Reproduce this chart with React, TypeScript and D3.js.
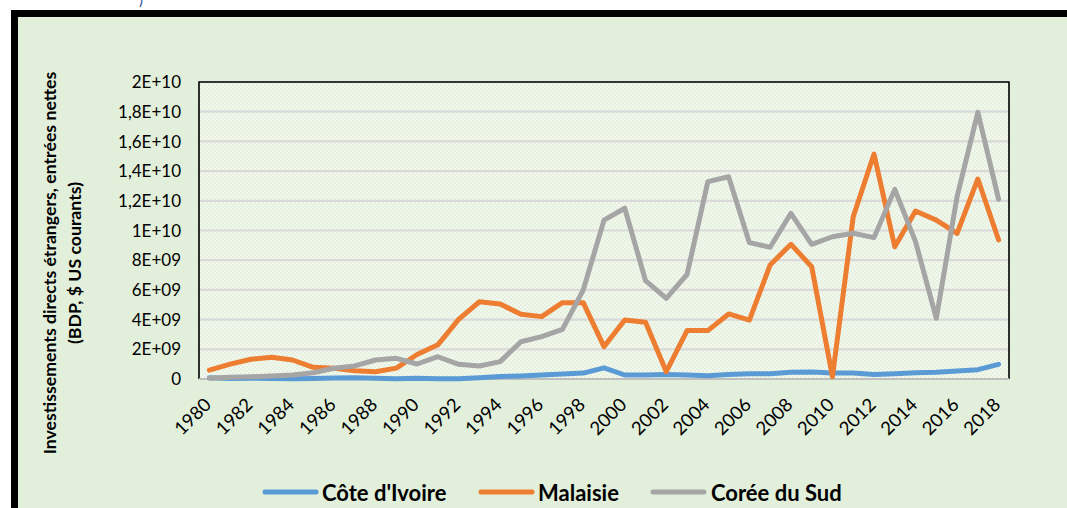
import React from "react";
import * as d3 from "d3";

const years: number[] = [
  1980, 1981, 1982, 1983, 1984, 1985, 1986, 1987, 1988, 1989,
  1990, 1991, 1992, 1993, 1994, 1995, 1996, 1997, 1998, 1999,
  2000, 2001, 2002, 2003, 2004, 2005, 2006, 2007, 2008, 2009,
  2010, 2011, 2012, 2013, 2014, 2015, 2016, 2017, 2018,
];

// values in billions of US$
const coteIvoire: number[] = [
  0.09, 0.03, 0.05, 0.04, 0.02, 0.03, 0.07, 0.09, 0.05, 0.02,
  0.05, 0.02, 0.02, 0.09, 0.17, 0.21, 0.27, 0.33, 0.4, 0.75,
  0.27, 0.27, 0.31, 0.27, 0.22, 0.3, 0.35, 0.35, 0.46, 0.47,
  0.4, 0.4, 0.31, 0.35, 0.42, 0.45, 0.54, 0.63, 0.99,
];
const malaisie: number[] = [
  0.6, 1.0, 1.33, 1.46, 1.28, 0.79, 0.72, 0.56, 0.49, 0.73,
  1.65, 2.3, 4.02, 5.2, 5.05, 4.36, 4.2, 5.14, 5.14, 2.18,
  3.97, 3.82, 0.49, 3.26, 3.26, 4.38, 3.97, 7.68, 9.07, 7.56,
  0.15, 10.93, 15.15, 8.91, 11.31, 10.7, 9.81, 13.47, 9.36,
];
const coreeSud: number[] = [
  0.05, 0.11, 0.15, 0.2, 0.27, 0.42, 0.72, 0.88, 1.28, 1.39,
  1.01, 1.5, 0.99, 0.88, 1.17, 2.51, 2.85, 3.34, 5.99, 10.7,
  11.5, 6.62, 5.43, 7.05, 13.29, 13.62, 9.18, 8.87, 11.16, 9.07,
  9.58, 9.81, 9.52, 12.77, 9.25, 4.09, 12.28, 17.96, 12.1,
];

const seriesNames: string[] = ["Côte d'Ivoire", "Malaisie", "Corée du Sud"];
const seriesColors: string[] = ["#5B9BD5", "#ED7D31", "#A5A5A5"];
const yTicks: number[] = [0, 2e9, 4e9, 6e9, 8e9, 1e10, 1.2e10, 1.4e10, 1.6e10, 1.8e10, 2e10];
const yTickLabels: string[] = [
  "0", "2E+09", "4E+09", "6E+09", "8E+09", "1E+10",
  "1,2E+10", "1,4E+10", "1,6E+10", "1,8E+10", "2E+10",
];
const xTickYears: number[] = years.filter((y) => y % 2 === 0);

const W = 1067;
const H = 508;
const plot = { left: 199, right: 1009, top: 82, bottom: 379 };
const FONT = "Lato, 'Open Sans', sans-serif";

export default function App() {
  const x = d3
    .scalePoint<number>()
    .domain(years)
    .range([plot.left, plot.right])
    .padding(0.5);
  const y = d3.scaleLinear().domain([0, 2e10]).range([plot.bottom, plot.top]);

  const data = [coteIvoire, malaisie, coreeSud];
  const line = d3
    .line<number>()
    .x((_, i) => x(years[i]) as number)
    .y((v) => y(v * 1e9));

  const legendItems = [
    { lx: 265, tx: 322 },
    { lx: 481, tx: 538 },
    { lx: 653, tx: 711 },
  ];

  return (
    <svg
      width={W}
      height={H}
      style={{ position: "absolute", left: 0, top: 0, background: "#fff" }}
      fontFamily={FONT}
    >
      <defs>
        <pattern id="dots" width="4" height="4" patternUnits="userSpaceOnUse">
          <rect width="4" height="4" fill="#F3F8EF" />
          <rect width="2" height="2" fill="#E6F0DF" />
          <rect x="2" y="2" width="2" height="2" fill="#E6F0DF" />
        </pattern>
      </defs>
      <text x={139} y={5} fontSize={15} fill="#2F5597">)</text>
      <rect x={14.5} y={13.5} width={1200} height={700} fill="#E2EFDA" stroke="#000" strokeWidth={7} />

      {/* plot area */}
      <rect
        x={plot.left}
        y={plot.top}
        width={plot.right - plot.left}
        height={plot.bottom - plot.top}
        fill="url(#dots)"
      />
      {yTicks.slice(1).map((t) => (
        <line
          key={t}
          x1={plot.left}
          x2={plot.right}
          y1={y(t)}
          y2={y(t)}
          stroke="#D9D9D9"
          strokeWidth={2.2}
        />
      ))}
      <path
        d={`M${plot.left},${plot.bottom}V${plot.top}H${plot.right}V${plot.bottom}`}
        fill="none"
        stroke="#000"
        strokeWidth={1.6}
      />
      <line
        x1={plot.left}
        x2={plot.right}
        y1={plot.bottom}
        y2={plot.bottom}
        stroke="#BFBFBF"
        strokeWidth={2}
      />

      {data.map((d, i) => (
        <path
          key={i}
          d={line(d) as string}
          fill="none"
          stroke={seriesColors[i]}
          strokeWidth={5}
          strokeLinejoin="round"
          strokeLinecap="round"
        />
      ))}

      {/* y ticks */}
      {yTicks.map((t, i) => (
        <text
          key={t}
          x={181}
          y={y(t)}
          dy="0.36em"
          textAnchor="end"
          fontSize={17}
          fill="#000"
        >
          {yTickLabels[i]}
        </text>
      ))}

      {/* x ticks */}
      {xTickYears.map((yr) => (
        <text
          key={yr}
          transform={`translate(${(x(yr) as number) + 3},${406}) rotate(-45)`}
          textAnchor="end"
          fontSize={18.5}
          fill="#000"
        >
          {yr}
        </text>
      ))}

      {/* y title */}
      <text
        transform="translate(56,263) rotate(-90)"
        textAnchor="middle"
        fontSize={17.7}
        fontWeight="bold"
        fill="#000"
      >
        Investissements directs étrangers, entrées nettes
      </text>
      <text
        transform="translate(81,263) rotate(-90)"
        textAnchor="middle"
        fontSize={17.7}
        fontWeight="bold"
        fill="#000"
      >
        (BDP, $ US courants)
      </text>

      {/* legend */}
      {seriesNames.map((n, i) => (
        <g key={n}>
          <line
            x1={legendItems[i].lx}
            x2={legendItems[i].lx + 51}
            y1={492}
            y2={492}
            stroke={seriesColors[i]}
            strokeWidth={5}
            strokeLinecap="round"
          />
          <text
            x={legendItems[i].tx}
            y={493}
            dy="0.35em"
            fontSize={22}
            fontWeight="bold"
            fill="#000"
          >
            {n}
          </text>
        </g>
      ))}
    </svg>
  );
}
